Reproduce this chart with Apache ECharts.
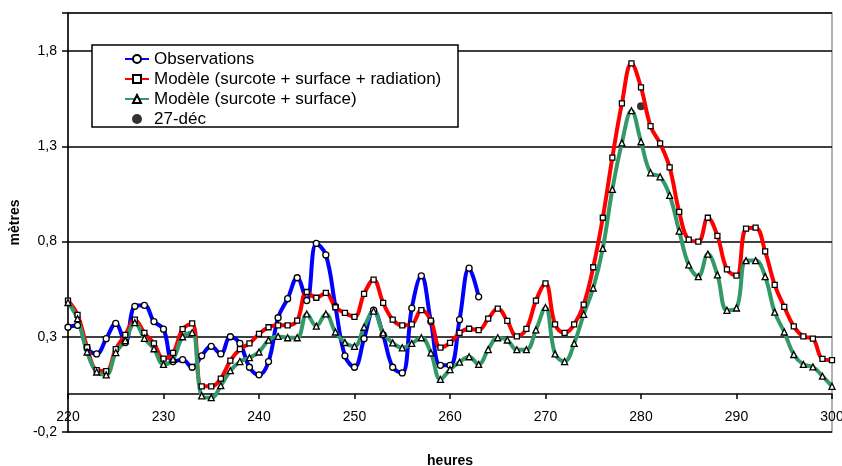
<!DOCTYPE html>
<html>
<head>
<meta charset="utf-8">
<script src="https://cdn.jsdelivr.net/npm/echarts@6/dist/echarts.min.js"></script>
<style>
  html, body { margin: 0; padding: 0; background: #fff; }
  #chart { width: 842px; height: 466px; }
</style>
</head>
<body>
<div id="chart"></div>
<script>
// heures : 220 .. 300, un point par heure
var startHour = 220;

// Observations (220 .. 263)
var observations = [
    0.35, 0.36, 0.24, 0.21, 0.29, 0.37, 0.27, 0.46, 0.465, 0.38,
    0.34, 0.17, 0.18, 0.14, 0.20, 0.25, 0.21, 0.30, 0.265, 0.14,
    0.10, 0.17, 0.40, 0.50, 0.61, 0.49, 0.79, 0.73, 0.46, 0.20,
    0.14, 0.29, 0.44, 0.31, 0.14, 0.11, 0.45, 0.62, 0.38, 0.15,
    0.15, 0.39, 0.66, 0.51
];

// Modèle (surcote + surface + radiation) (220 .. 300)
var modeleRadiation = [
    0.49, 0.415, 0.245, 0.125, 0.12, 0.235, 0.31, 0.39, 0.32, 0.265,
    0.185, 0.215, 0.34, 0.37, 0.04, 0.04, 0.08, 0.175, 0.235, 0.265,
    0.315, 0.35, 0.36, 0.36, 0.385, 0.535, 0.505, 0.53, 0.455, 0.425,
    0.405, 0.525, 0.60, 0.478, 0.39, 0.36, 0.365, 0.44, 0.385, 0.243,
    0.268, 0.32, 0.342, 0.335, 0.395, 0.448, 0.383, 0.302, 0.341, 0.49,
    0.58, 0.365, 0.32, 0.365, 0.469, 0.665, 0.925, 1.241, 1.525, 1.735,
    1.609, 1.406, 1.315, 1.189, 0.956, 0.81, 0.80, 0.925, 0.83, 0.654,
    0.621, 0.868, 0.873, 0.748, 0.573, 0.457, 0.355, 0.302, 0.29, 0.184,
    0.177
];

// Modèle (surcote + surface) (220 .. 300)
var modeleSurface = [
    0.48, 0.395, 0.22, 0.115, 0.10, 0.217, 0.28, 0.374, 0.292, 0.237,
    0.155, 0.182, 0.30, 0.322, -0.01, -0.02, 0.043, 0.122, 0.17, 0.19,
    0.22, 0.282, 0.302, 0.295, 0.295, 0.42, 0.356, 0.42, 0.325, 0.27,
    0.25, 0.35, 0.435, 0.32, 0.268, 0.242, 0.265, 0.295, 0.215, 0.076,
    0.128, 0.167, 0.195, 0.155, 0.233, 0.295, 0.283, 0.232, 0.232, 0.336,
    0.454, 0.21, 0.17, 0.265, 0.418, 0.556, 0.764, 1.074, 1.318, 1.487,
    1.324, 1.161, 1.14, 1.042, 0.855, 0.677, 0.616, 0.734, 0.625, 0.439,
    0.451, 0.70, 0.70, 0.616, 0.429, 0.325, 0.207, 0.155, 0.142, 0.093,
    0.04
];

// 27-déc
var decPoint = [[280, 1.51]];

var legendNames = [
    'Observations',
    'Modèle (surcote + surface + radiation)',
    'Modèle (surcote + surface)',
    '27-déc'
];

function toPairs(values) {
    var out = [];
    for (var i = 0; i < values.length; i++) {
        out.push([startHour + i, values[i]]);
    }
    return out;
}

var markerStyle = {color: '#fff', borderColor: '#000', borderWidth: 1.3};

var option = {
    animation: false,
    backgroundColor: '#fff',
    textStyle: {fontFamily: 'Liberation Sans, Arial, sans-serif'},
    grid: {
        left: 68, right: 10, top: 13, bottom: 34,
        outerBoundsMode: 'none',
        containLabel: false,
        show: true, borderColor: '#999', borderWidth: 1.5, backgroundColor: '#fff'
    },
    // cadre de la légende
    graphic: [{
        type: 'rect', z: 5,
        shape: {x: 92, y: 45, width: 366, height: 82},
        style: {fill: '#fff', stroke: '#000', lineWidth: 1.5}
    }],
    legend: {
        data: legendNames,
        orient: 'vertical',
        left: 124, top: 49,
        z: 6,
        padding: 0,
        itemGap: 0,
        itemWidth: 24,
        itemHeight: 10,
        textStyle: {fontSize: 17, color: '#000', lineHeight: 20}
    },
    xAxis: {
        type: 'value',
        min: 220, max: 300, interval: 10,
        name: 'heures',
        nameLocation: 'middle',
        nameGap: 22,
        nameTextStyle: {fontSize: 14, fontWeight: 'bold', color: '#000'},
        axisLine: {onZero: true, lineStyle: {color: '#000', width: 1.5}},
        axisTick: {show: true, inside: false, length: 5, lineStyle: {color: '#000', width: 1.5}},
        axisLabel: {fontSize: 14, color: '#000', margin: -22},
        splitLine: {show: false}
    },
    yAxis: {
        type: 'value',
        min: -0.2, max: 2.0, interval: 0.5,
        name: 'mètres',
        nameLocation: 'middle',
        nameGap: 45,
        nameRotate: 90,
        nameTextStyle: {fontSize: 14, fontWeight: 'bold', color: '#000'},
        axisLine: {show: true, lineStyle: {color: '#000', width: 1.5}},
        axisTick: {show: true, inside: false, length: 6, lineStyle: {color: '#000', width: 1.5}},
        axisLabel: {
            fontSize: 14, color: '#000', margin: 11,
            formatter: function (v) {
                if (Math.abs(v - 2.0) < 1e-6) return '';
                return v.toFixed(1).replace('.', ',');
            }
        },
        splitLine: {show: true, lineStyle: {color: '#000', width: 1.5}}
    },
    series: [
        {
            name: legendNames[0],
            type: 'line',
            data: toPairs(observations),
            smooth: 0.4,
            symbol: 'circle', symbolSize: 6,
            lineStyle: {color: '#0000ff', width: 4},
            itemStyle: markerStyle,
            color: '#0000ff'
        },
        {
            name: legendNames[1],
            type: 'line',
            data: toPairs(modeleRadiation),
            smooth: 0.4,
            symbol: 'rect', symbolSize: 5,
            lineStyle: {color: '#ff0000', width: 4},
            itemStyle: markerStyle,
            color: '#ff0000'
        },
        {
            name: legendNames[2],
            type: 'line',
            data: toPairs(modeleSurface),
            smooth: 0.4,
            symbol: 'triangle', symbolSize: 6,
            lineStyle: {color: '#339966', width: 4},
            itemStyle: markerStyle,
            color: '#339966'
        },
        {
            name: legendNames[3],
            type: 'scatter',
            data: decPoint,
            symbol: 'circle', symbolSize: 8,
            itemStyle: {color: '#000'}
        }
    ]
};

var myChart = echarts.init(document.getElementById('chart'));
myChart.setOption(option);
</script>
</body>
</html>
